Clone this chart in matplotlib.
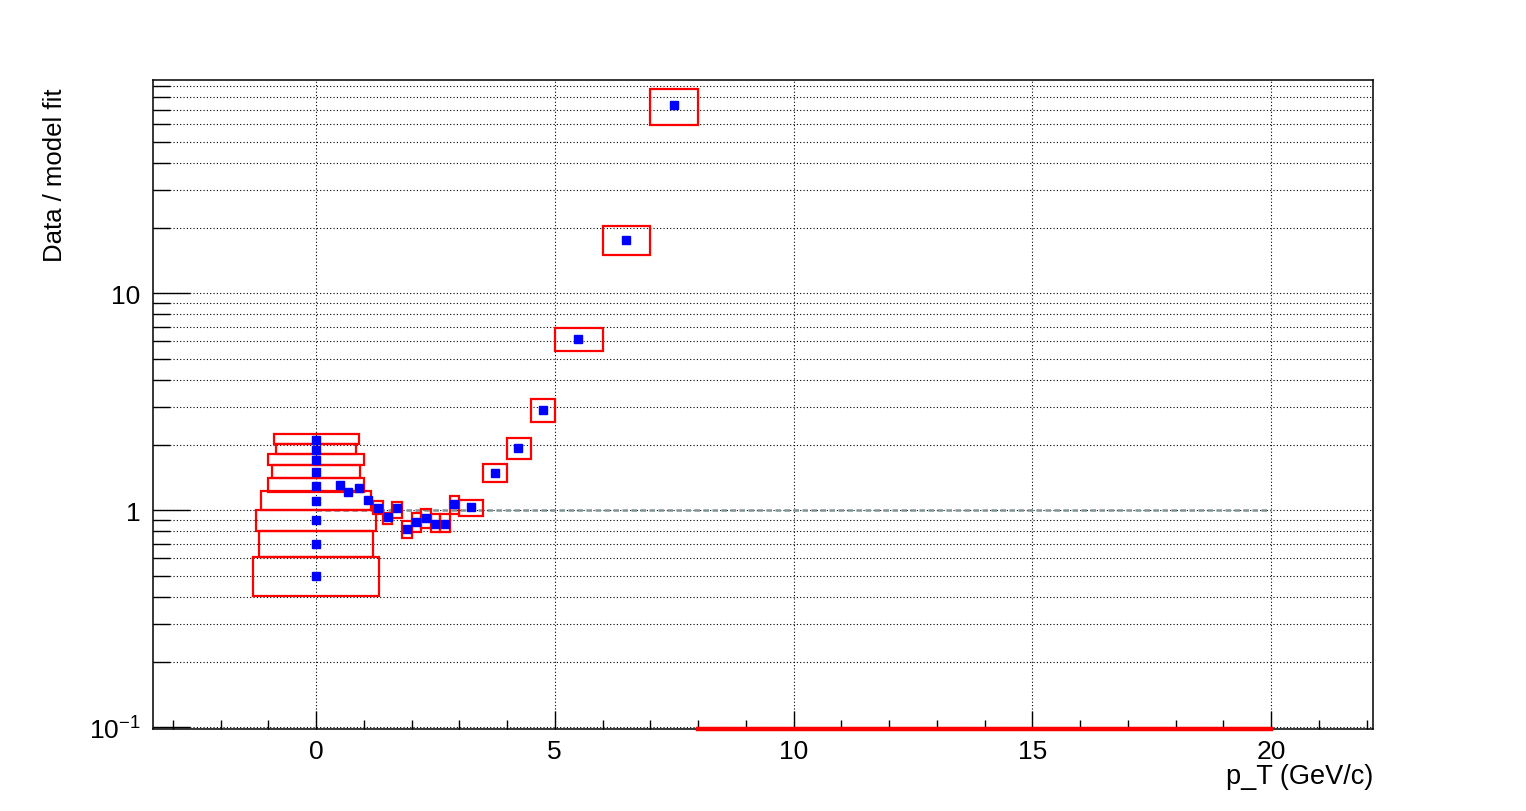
import matplotlib
matplotlib.use("Agg")
import matplotlib.pyplot as plt
from matplotlib.patches import Rectangle
from matplotlib.ticker import FixedLocator, FixedFormatter, LogLocator, MultipleLocator, NullFormatter

plt.rcParams['font.family'] = ['Liberation Sans', 'DejaVu Sans']
plt.rcParams['mathtext.default'] = 'regular'

# ratio points (data / model fit)
pt_x = [0, 0, 0, 0, 0, 0, 0, 0, 0,
        0.5, 0.68, 0.89, 1.09, 1.29, 1.5, 1.69, 1.9, 2.09, 2.3, 2.5, 2.7, 2.9,
        3.24, 3.75, 4.24, 4.75, 5.49, 6.49, 7.5]
pt_y = [2.1, 1.9, 1.7, 1.5, 1.3, 1.1, 0.9, 0.7, 0.5,
        1.31, 1.21, 1.27, 1.12, 1.03, 0.93, 1.02, 0.817, 0.884, 0.921, 0.868, 0.868, 1.07,
        1.035, 1.49, 1.93, 2.89, 6.14, 17.7, 73.5]

# systematic boxes
box_xlo = [-0.89, -0.83, -1.01, -0.92, -1.0, -1.15, -1.26, -1.2, -1.31,
           1.2, 1.4, 1.6, 1.8, 2.0, 2.2, 2.4, 2.6, 2.8, 3.0, 3.5, 4.0, 4.5, 5.0, 6.0, 7.0, 8.0]
box_xhi = [0.89, 0.83, 1.01, 0.92, 1.0, 1.15, 1.26, 1.2, 1.31,
           1.4, 1.6, 1.8, 2.0, 2.2, 2.4, 2.6, 2.8, 3.0, 3.5, 4.0, 4.5, 5.0, 6.0, 7.0, 8.0, 20.0]
box_ylo = [2.02, 1.82, 1.62, 1.41, 1.22, 1.006, 0.803, 0.607, 0.404,
           0.965, 0.862, 0.921, 0.743, 0.794, 0.832, 0.794, 0.794, 0.958, 0.94,
           1.35, 1.72, 2.54, 5.41, 15.0, 59.5, 0.0]
box_yhi = [2.25, 2.02, 1.82, 1.62, 1.41, 1.223, 1.006, 0.803, 0.607,
           1.10, 0.976, 1.092, 0.893, 0.976, 1.018, 0.966, 0.966, 1.17, 1.115,
           1.63, 2.15, 3.25, 6.89, 20.4, 87.7, 0.0]

# reference line at unity
ref_x = [0, 20]
ref_y = [1, 1]

xticks = [0, 5, 10, 15, 20]
yticks = [0.1, 1, 10]
ytick_labels = [r'$10^{-1}$', '1', '10']

XMIN, XMAX = -3.414, 22.136
YMIN, YMAX = 0.0987, 95.9

fig = plt.figure(figsize=(15.26, 8.12), dpi=100)
ax = fig.add_axes([153 / 1526, 1 - 729.5 / 812, 1220 / 1526, 648.2 / 812])
ax.set_yscale('log')
ax.set_xlim(XMIN, XMAX)
ax.set_ylim(YMIN, YMAX)

# grid: dotted, x only at major ticks, y at all ticks
ax.set_axisbelow(True)
ax.grid(True, which='major', axis='x', color='black', lw=0.8, ls=(0, (1, 2)))
ax.grid(True, which='both', axis='y', color='black', lw=0.8, ls=(0, (1, 2)))

ax.plot(ref_x, ref_y, color='#7f9494', lw=1.8, ls=(0, (2.2, 1.4)), zorder=2)

for x0, x1, y0, y1 in zip(box_xlo, box_xhi, box_ylo, box_yhi):
    if y1 <= YMIN:
        # box fully below range: ROOT squashes it onto the frame
        ax.plot([x0, x1], [YMIN, YMIN], color='red', lw=3.2, clip_on=False, zorder=4)
        continue
    ax.add_patch(Rectangle((x0, y0), x1 - x0, y1 - y0, fill=False,
                           edgecolor='red', lw=1.6, zorder=3))

ax.plot(pt_x, pt_y, 's', color='blue', ms=5.2, mec='blue', zorder=5)

ax.xaxis.set_major_locator(FixedLocator(xticks))
ax.xaxis.set_minor_locator(MultipleLocator(1))
ax.yaxis.set_major_locator(FixedLocator(yticks))
ax.yaxis.set_major_formatter(FixedFormatter(ytick_labels))
ax.yaxis.set_minor_locator(LogLocator(base=10, subs=range(2, 10)))
ax.yaxis.set_minor_formatter(NullFormatter())

ax.tick_params(axis='x', which='major', direction='in', length=13, width=1, labelsize=19, pad=7.5)
ax.tick_params(axis='x', which='minor', direction='in', length=6.5, width=1)
ax.tick_params(axis='y', which='major', direction='in', length=26.5, width=1, labelsize=19, pad=9)
ax.tick_params(axis='y', which='minor', direction='in', length=12.2, width=1)
for s in ax.spines.values():
    s.set_linewidth(1.1)

fig.text(55 / 1526, 1 - 88 / 812, 'Data / model fit', rotation=90,
         ha='center', va='top', fontsize=18.5)
fig.text(1373 / 1526, 1 - 784 / 812, 'p_T (GeV/c)', ha='right',
         va='baseline', fontsize=19.5)

fig.savefig('out.png', dpi=100)
